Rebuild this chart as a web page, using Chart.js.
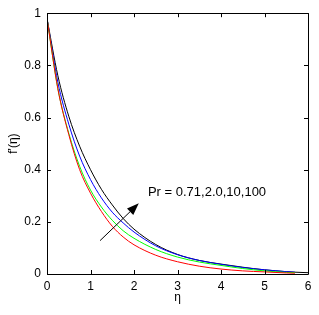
<!DOCTYPE html>
<html>
<head>
<meta charset="utf-8">
<script src="https://cdn.jsdelivr.net/npm/chart.js@4"></script>
<style>
  body { margin: 0; background: #fff; }
  canvas { display: block; }
</style>
</head>
<body>
<canvas id="chart" width="319" height="315"></canvas>
<script>
// eta values shared by every curve
const eta = [0, 0.25, 0.5, 0.75, 1.0, 1.25, 1.5, 1.75, 2.0, 2.5, 3.0, 3.5, 4.0, 4.5, 5.0, 5.5, 5.7, 6.0];

// f'(eta) for Pr = 0.71, 2.0, 10, 100
const fBlack = [0.98, 0.76, 0.605, 0.49, 0.40, 0.325, 0.265, 0.213, 0.172, 0.113, 0.075, 0.052, 0.038, 0.026, 0.016, 0.009, 0.007, 0.005];
const fBlue  = [0.98, 0.735, 0.575, 0.452, 0.362, 0.292, 0.237, 0.196, 0.161, 0.108, 0.074, 0.052, 0.037, 0.025, 0.016, 0.009, 0.007, null];
const fGreen = [0.98, 0.71, 0.54, 0.413, 0.322, 0.257, 0.206, 0.166, 0.137, 0.094, 0.065, 0.046, 0.033, 0.021, 0.012, 0.006, 0.005, null];
const fRed   = [0.98, 0.71, 0.535, 0.40, 0.31, 0.24, 0.183, 0.142, 0.112, 0.072, 0.047, 0.030, 0.019, 0.012, 0.008, 0.004, 0.003, null];

const xTicks = [0, 1, 2, 3, 4, 5, 6];
const yTicks = [0, 0.2, 0.4, 0.6, 0.8, 1];

const annotationText = "Pr = 0.71,2.0,10,100";
const arrowTail = [1.22, 0.128];
const arrowHead = [2.11, 0.271];
const textAt = [2.32, 0.313];

const FONT = "'Liberation Sans', Arial, sans-serif";

function points(ys) {
  return eta.map((x, i) => ({ x: x, y: ys[i] }));
}

// box, inward ticks on all four sides, arrow and label
const matlabAxes = {
  id: "matlabAxes",
  afterDraw(chart) {
    const { ctx, chartArea: a, scales } = chart;
    const xs = scales.x, ys = scales.y;
    ctx.save();
    ctx.strokeStyle = "#000";
    ctx.lineWidth = 1;
    ctx.beginPath();
    ctx.rect(Math.round(a.left) + 0.5, Math.round(a.top) + 0.5,
             Math.round(a.right - a.left), Math.round(a.bottom - a.top));
    ctx.stroke();

    const tl = 4;
    ctx.beginPath();
    xTicks.forEach(v => {
      const px = Math.round(xs.getPixelForValue(v)) + 0.5;
      ctx.moveTo(px, a.bottom); ctx.lineTo(px, a.bottom - tl);
      ctx.moveTo(px, a.top); ctx.lineTo(px, a.top + tl);
    });
    yTicks.forEach(v => {
      const py = Math.round(ys.getPixelForValue(v)) + 0.5;
      ctx.moveTo(a.left, py); ctx.lineTo(a.left + tl, py);
      ctx.moveTo(a.right, py); ctx.lineTo(a.right - tl, py);
    });
    ctx.stroke();

    // arrow
    const x0 = xs.getPixelForValue(arrowTail[0]), y0 = ys.getPixelForValue(arrowTail[1]);
    const x1 = xs.getPixelForValue(arrowHead[0]), y1 = ys.getPixelForValue(arrowHead[1]);
    const ang = Math.atan2(y1 - y0, x1 - x0);
    const hl = 12, hw = 4.5;
    const bx = x1 - hl * Math.cos(ang), by = y1 - hl * Math.sin(ang);
    ctx.beginPath();
    ctx.moveTo(x0, y0); ctx.lineTo(bx, by);
    ctx.stroke();
    ctx.fillStyle = "#000";
    ctx.beginPath();
    ctx.moveTo(x1, y1);
    ctx.lineTo(bx + hw * Math.sin(ang), by - hw * Math.cos(ang));
    ctx.lineTo(bx - hw * Math.sin(ang), by + hw * Math.cos(ang));
    ctx.closePath();
    ctx.fill();

    // label
    ctx.font = "13px " + FONT;
    ctx.textAlign = "left";
    ctx.textBaseline = "middle";
    ctx.fillText(annotationText, xs.getPixelForValue(textAt[0]), ys.getPixelForValue(textAt[1]));
    ctx.restore();
  }
};

const line = (data, color) => ({
  data: points(data),
  borderColor: color,
  borderWidth: 1,
  pointRadius: 0,
  fill: false,
  cubicInterpolationMode: "monotone",
});

new Chart(document.getElementById("chart"), {
  type: "line",
  data: {
    datasets: [
      line(fRed, "#ff0000"),
      line(fGreen, "#00ff00"),
      line(fBlue, "#0000ff"),
      line(fBlack, "#000000"),
    ],
  },
  options: {
    responsive: false,
    animation: false,
    devicePixelRatio: 1,
    layout: { padding: { top: 9, right: 11, left: 0, bottom: 0 } },
    plugins: { legend: { display: false }, tooltip: { enabled: false } },
    scales: {
      x: {
        type: "linear",
        min: 0,
        max: 6,
        afterFit: (s) => { s.height = 41; },
        afterBuildTicks: (s) => { s.ticks = xTicks.map(v => ({ value: v })); },
        grid: { display: false, drawTicks: false },
        border: { display: false },
        ticks: { color: "#000", padding: 5, font: { family: FONT, size: 12 } },
        title: { display: true, text: "η", color: "#000", padding: { top: 0, bottom: 10 }, font: { family: FONT, size: 12 } },
      },
      y: {
        type: "linear",
        min: 0,
        max: 1,
        afterFit: (s) => { s.width = 47; },
        afterBuildTicks: (s) => { s.ticks = yTicks.map(v => ({ value: v })); },
        grid: { display: false, drawTicks: false },
        border: { display: false },
        ticks: { color: "#000", padding: 6, font: { family: FONT, size: 12 }, callback: (v) => String(+v.toFixed(1)) },
        title: { display: true, text: "f'(η)", color: "#000", padding: { top: 6, bottom: 0 }, font: { family: FONT, size: 12 } },
      },
    },
  },
  plugins: [matlabAxes],
});
</script>
</body>
</html>
